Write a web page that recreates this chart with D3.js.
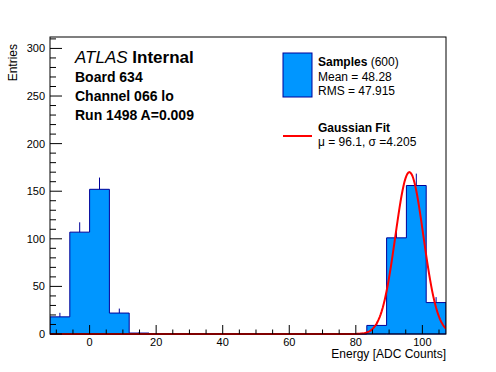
<!DOCTYPE html>
<html>
<head>
<meta charset="utf-8">
<script src="https://cdn.jsdelivr.net/npm/d3@7"></script>
<style>
  body { margin: 0; background: #fff; }
  svg text { font-family: "Liberation Sans", Arial, Helvetica, sans-serif; }
</style>
</head>
<body>
<div id="chart"></div>
<script>
// histogram: 20 bins between xMin and xMax
const xMin = -11.9;
const xMax = 107.1;
const counts = [18, 107, 152, 22, 1, 0, 0, 0, 0, 0, 0, 0, 0, 0, 0, 0, 9, 101, 156, 33];
const xTicks = [0, 20, 40, 60, 80, 100];
const yTicks = [0, 50, 100, 150, 200, 250, 300];
const yMax = 312;

const fitMu = 96.1;
const fitSigma = 4.205;
const fitAmp = 170;

const infoLines = ["Board 634", "Channel 066 lo", "Run 1498 A=0.009"];

const width = 496, height = 372;
const margin = {top: 37, right: 50, bottom: 38, left: 50};

const svg = d3.select('#chart').append('svg')
  .attr('width', width)
  .attr('height', height);

const x = d3.scaleLinear().domain([xMin, xMax]).range([margin.left, width - margin.right]);
const y = d3.scaleLinear().domain([0, yMax]).range([height - margin.bottom, margin.top]);

const binW = (xMax - xMin) / counts.length;
const bins = counts.map((c, i) => ({x0: xMin + i * binW, x1: xMin + (i + 1) * binW, n: c}));

// clip to the frame, with a little room below for the fit line on the baseline
svg.append('clipPath').attr('id', 'frame')
  .append('rect')
  .attr('x', margin.left).attr('y', margin.top)
  .attr('width', width - margin.left - margin.right)
  .attr('height', height - margin.top - margin.bottom + 2);

const plot = svg.append('g').attr('clip-path', 'url(#frame)');

// histogram as one stepped shape
const steps = bins.map(b => [b.x0, b.n]).concat([[xMax, counts[counts.length - 1]]]);
const area = d3.area()
  .curve(d3.curveStepAfter)
  .x(d => x(d[0]))
  .y0(y(0))
  .y1(d => y(d[1]));
plot.append('path')
  .datum(steps)
  .attr('d', area)
  .attr('fill', '#0096ff')
  .attr('stroke', '#000099')
  .attr('stroke-width', 1);

// error bars above each bin
const nonEmpty = bins.filter(b => b.n > 0);
plot.selectAll('line.err')
  .data(nonEmpty)
  .enter().append('line')
  .attr('x1', d => x((d.x0 + d.x1) / 2))
  .attr('x2', d => x((d.x0 + d.x1) / 2))
  .attr('y1', d => y(d.n))
  .attr('y2', d => y(d.n + Math.sqrt(d.n)))
  .attr('stroke', '#000099')
  .attr('stroke-width', 1);

// fit curve
const curveX = d3.range(0, 401).map(i => xMin + i * (xMax - xMin) / 400);
const line = d3.line()
  .x(d => x(d))
  .y(d => y(fitAmp * Math.exp(-0.5 * Math.pow((d - fitMu) / fitSigma, 2))));
plot.append('path')
  .datum(curveX)
  .attr('d', line)
  .attr('fill', 'none')
  .attr('stroke', '#ff0000')
  .attr('stroke-width', 2);

// frame
svg.append('rect')
  .attr('x', margin.left).attr('y', margin.top)
  .attr('width', width - margin.left - margin.right)
  .attr('height', height - margin.top - margin.bottom)
  .attr('fill', 'none')
  .attr('stroke', '#000')
  .attr('stroke-width', 1);

// y axis: ticks point into the frame
const yAxis = svg.append('g').attr('transform', `translate(${margin.left},0)`);
yAxis.selectAll('line')
  .data(d3.range(0, yMax + 1, 10))
  .enter().append('line')
  .attr('x1', 0).attr('x2', d => d % 50 === 0 ? 12 : 6)
  .attr('y1', d => y(d)).attr('y2', d => y(d))
  .attr('stroke', '#000');
yAxis.selectAll('text')
  .data(yTicks)
  .enter().append('text')
  .attr('x', -5)
  .attr('y', d => y(d) + 4)
  .attr('text-anchor', 'end')
  .attr('font-size', 11)
  .text(d => d);

// x axis
const xAxis = svg.append('g').attr('transform', `translate(0,${height - margin.bottom})`);
xAxis.selectAll('line')
  .data(d3.range(-10, xMax, 5))
  .enter().append('line')
  .attr('x1', d => x(d)).attr('x2', d => x(d))
  .attr('y1', 0).attr('y2', d => d % 20 === 0 ? -9 : -4.5)
  .attr('stroke', '#000');
xAxis.selectAll('text')
  .data(xTicks)
  .enter().append('text')
  .attr('x', d => x(d))
  .attr('y', 12)
  .attr('text-anchor', 'middle')
  .attr('font-size', 11)
  .text(d => d);

svg.append('text')
  .attr('x', width - margin.right)
  .attr('y', 358)
  .attr('text-anchor', 'end')
  .attr('font-size', 12)
  .text('Energy [ADC Counts]');

svg.append('text')
  .attr('transform', 'translate(17,44) rotate(-90)')
  .attr('text-anchor', 'end')
  .attr('font-size', 12)
  .text('Entries');

// ATLAS label block
const atlas = svg.append('text').attr('x', 75).attr('y', 63).attr('font-size', 17);
atlas.append('tspan').attr('font-style', 'italic').text('ATLAS');
atlas.append('tspan').attr('font-weight', 'bold').text(' Internal');

svg.selectAll('text.info')
  .data(infoLines)
  .enter().append('text')
  .attr('class', 'info')
  .attr('x', 75)
  .attr('y', (d, i) => 82 + i * 19)
  .attr('font-size', 14)
  .attr('font-weight', 'bold')
  .text(d => d);

// legend
svg.append('rect')
  .attr('x', 283).attr('y', 53)
  .attr('width', 29).attr('height', 44)
  .attr('fill', '#0096ff')
  .attr('stroke', '#000099');
const l1 = svg.append('text').attr('x', 318).attr('y', 66).attr('font-size', 12);
l1.append('tspan').attr('font-weight', 'bold').text('Samples');
l1.append('tspan').text(' (600)');
svg.append('text').attr('x', 318).attr('y', 81).attr('font-size', 12).text('Mean = 48.28');
svg.append('text').attr('x', 318).attr('y', 95).attr('font-size', 12).text('RMS = 47.915');

svg.append('line')
  .attr('x1', 283).attr('x2', 312)
  .attr('y1', 136).attr('y2', 136)
  .attr('stroke', '#ff0000')
  .attr('stroke-width', 2);
svg.append('text').attr('x', 318).attr('y', 132).attr('font-size', 12)
  .attr('font-weight', 'bold').text('Gaussian Fit');
svg.append('text').attr('x', 318).attr('y', 146).attr('font-size', 12)
  .text('\u03bc = 96.1, \u03c3 =4.205');
</script>
</body>
</html>
